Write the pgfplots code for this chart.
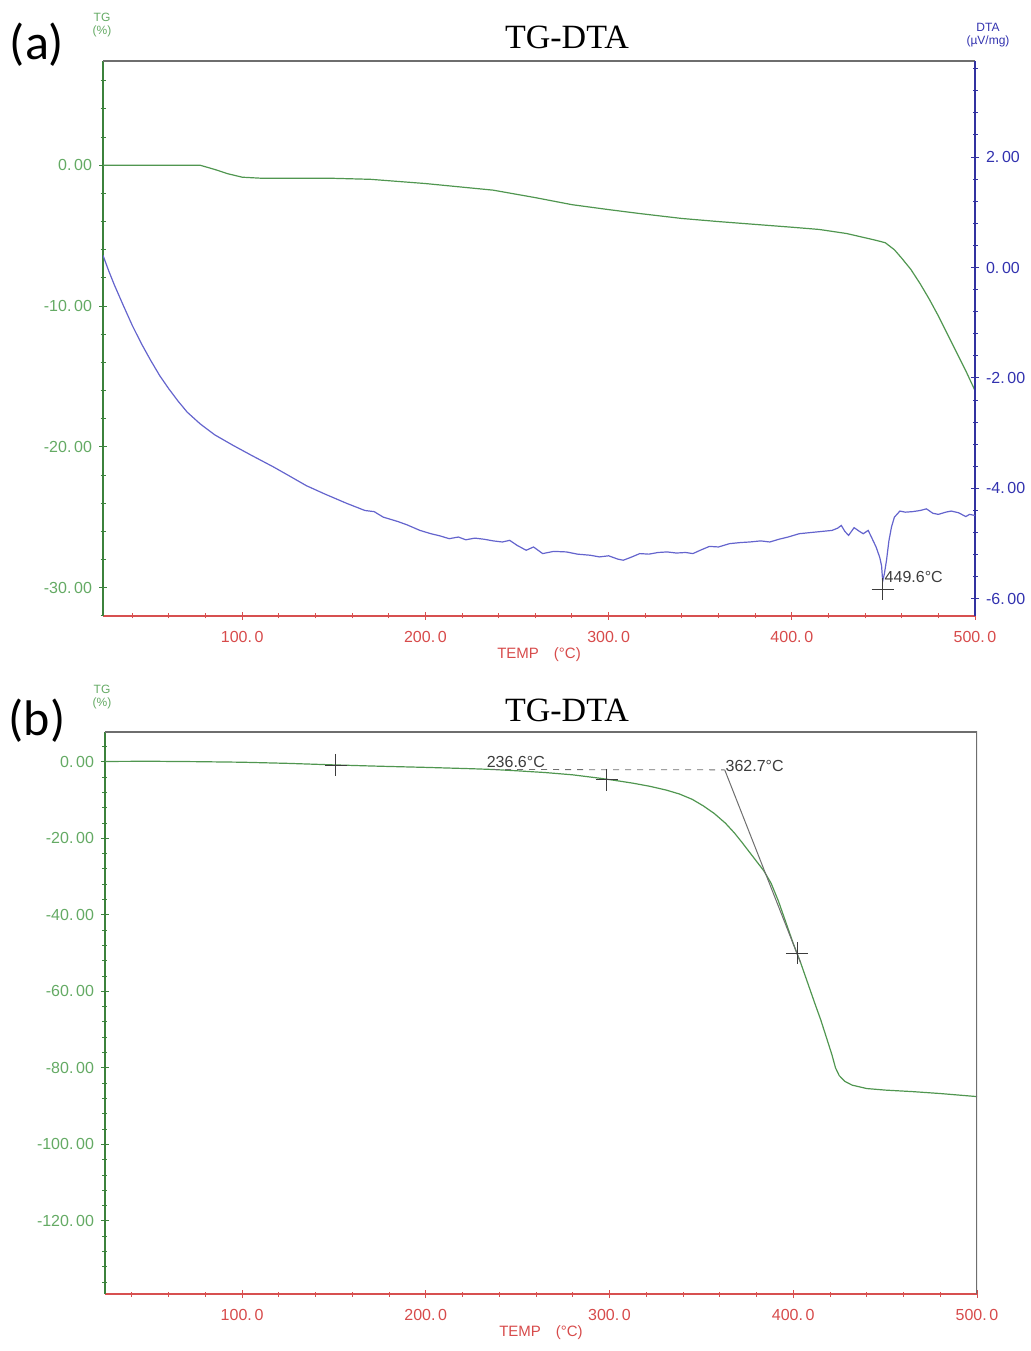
\documentclass[border=0pt]{standalone}
\usepackage{pgfplots}
\pgfplotsset{compat=1.18}
\usepackage{fontspec}
\setmainfont{Liberation Sans}
\newfontfamily\titlefont{Liberation Serif}
\newfontfamily\panelfont{Carlito}
\definecolor{tgcurve}{RGB}{80,150,80}
\definecolor{axgreen}{RGB}{60,130,60}
\definecolor{lblgreen}{RGB}{100,170,100}
\definecolor{dtacurve}{RGB}{100,100,205}
\definecolor{axblue}{RGB}{50,50,160}
\definecolor{lblblue}{RGB}{50,50,175}
\definecolor{axred}{RGB}{215,80,80}
\definecolor{lblred}{RGB}{215,75,75}
\definecolor{bordergray}{RGB}{110,110,110}
\definecolor{annot}{RGB}{60,60,60}

\pgfplotstableread{
T TG
24 0.0
77 0.0
85 -0.3
92 -0.6
100 -0.85
110 -0.92
150 -0.93
170 -1.0
200 -1.3
237 -1.77
260 -2.3
280 -2.8
300 -3.15
317 -3.43
340 -3.78
360 -4.0
380 -4.2
400 -4.4
415 -4.56
430 -4.85
445 -5.3
451 -5.5
456 -6.0
460 -6.6
465 -7.4
470 -8.4
475 -9.5
480 -10.7
485 -12.0
490 -13.3
495 -14.6
500 -16.0
}\tga

\pgfplotstableread{
T DTA
24 0.22
27 -0.05
30 -0.30
35 -0.68
40 -1.05
45 -1.38
50 -1.68
55 -1.96
60 -2.20
65 -2.42
70 -2.62
77 -2.83
85 -3.03
95 -3.22
105 -3.40
117 -3.61
125 -3.76
135 -3.95
145 -4.10
157 -4.27
167 -4.40
172 -4.42
177 -4.52
185 -4.60
190 -4.66
197 -4.76
203 -4.82
208 -4.86
213 -4.91
218 -4.88
222 -4.93
227 -4.90
232 -4.92
237 -4.95
242 -4.97
246 -4.94
250 -5.03
255 -5.12
259 -5.06
264 -5.18
270 -5.14
277 -5.15
283 -5.19
290 -5.21
295 -5.24
300 -5.22
305 -5.28
308 -5.30
312 -5.25
317 -5.18
322 -5.19
327 -5.16
332 -5.15
337 -5.17
342 -5.16
346 -5.18
350 -5.12
355 -5.05
360 -5.06
366 -5.00
372 -4.98
377 -4.97
383 -4.95
388 -4.97
393 -4.92
398 -4.88
404 -4.82
410 -4.80
416 -4.78
422 -4.76
425 -4.72
427 -4.67
429 -4.78
431 -4.85
434 -4.71
437 -4.78
439 -4.82
441.7 -4.76
443 -4.85
446 -5.06
448 -5.25
449 -5.40
449.6 -5.68
450.5 -5.55
451.7 -5.30
453 -4.95
454.4 -4.70
456 -4.52
459 -4.41
462 -4.43
466 -4.42
470 -4.40
473.5 -4.37
477 -4.45
480 -4.47
484 -4.43
487 -4.41
491 -4.44
495 -4.51
497 -4.47
500 -4.49
}\dtaa

\pgfplotstableread{
T TG
25.4 0.1
50 0.15
75 0.05
100 -0.1
125 -0.4
150 -0.8
175 -1.15
200 -1.45
225 -1.8
236.6 -2.0
250 -2.35
265 -2.8
280 -3.4
295 -4.3
305 -5.0
313 -5.6
322 -6.4
331 -7.4
338 -8.4
345 -9.8
351 -11.5
357 -13.5
363 -16.0
368 -18.6
372 -21
376 -23.5
380 -26
384 -28.5
388 -31.8
392 -36.5
396 -42
400 -47.5
404 -52.5
408 -58
412 -63.5
415 -67.5
418 -72
421 -76.5
423 -80
425 -82
428 -83.5
432 -84.5
440 -85.4
450 -85.8
465 -86.2
480 -86.7
490 -87.1
500 -87.5
}\tgb

\pgfplotsset{
  common/.style={
    scale only axis, width=436pt,
    anchor=south west,
    tick align=center,
    major tick length=4pt, minor tick length=2.5pt,
    /pgf/number format/assume math mode=true,
    tick label style={font=\fontsize{8}{9}\selectfont},
  },
  xred/.style={
    axis x line*=bottom,
    x axis line style={draw=axred, line width=0.8pt, -},
    x tick style={draw=axred, line width=0.5pt},
    xtick={100,200,...,500},
    minor xtick={40,60,...,480},
    xticklabel={\pgfmathprintnumber[fixed,fixed zerofill,precision=1,set decimal separator={.\,}]{\tick}},
    xticklabel style={text=lblred, yshift=-2pt},
    xlabel={TEMP\quad(\textdegree C)},
    xlabel style={text=lblred, font=\fontsize{7.5}{9}\selectfont, yshift=4pt},
  },
  ygreen/.style={
    axis y line*=left,
    y axis line style={draw=axgreen, line width=0.8pt, -},
    y tick style={draw=axgreen, line width=0.5pt},
    yticklabel={\pgfmathprintnumber[fixed,fixed zerofill,precision=2,set decimal separator={.\,}]{\tick}},
    yticklabel style={text=lblgreen},
  },
}

\begin{document}
\begin{tikzpicture}[x=1pt,y=1pt]
\path[use as bounding box] (0,0) rectangle (515,675.5);

% ---------------- Panel (a) -----------------
\begin{axis}[common, xred, ygreen,
  at={(51.5pt,367.5pt)}, height=277.5pt,
  xmin=24, xmax=500, ymin=-32, ymax=7.4,
  ytick={-30,-20,-10,0},
  minor ytick={-32,-30,...,6},
]
\addplot[tgcurve, line width=0.6pt, no marks] table[x=T,y=TG]{\tga};
\draw[bordergray, line width=0.8pt] (rel axis cs:0,1) -- (rel axis cs:1,1);
\end{axis}

\begin{axis}[common,
  at={(51.5pt,367.5pt)}, height=277.5pt,
  xmin=24, xmax=500, ymin=-6.31, ymax=3.74,
  axis x line=none,
  axis y line*=right,
  y axis line style={draw=axblue, line width=0.9pt, -},
  y tick style={draw=axblue, line width=0.5pt},
  ytick={-6,-4,...,2},
  minor ytick={-6.4,-6,...,3.6},
  yticklabel={\pgfmathprintnumber[fixed,fixed zerofill,precision=2,set decimal separator={.\,}]{\tick}},
  yticklabel style={text=lblblue},
]
\addplot[dtacurve, line width=0.6pt, no marks] table[x=T,y=DTA]{\dtaa};
\addplot[annot, only marks, mark=+, mark size=5.5pt, mark options={line width=0.4pt}] coordinates {(449.6,-5.82)};
\node[annot, anchor=west, font=\fontsize{8}{9}\selectfont, inner sep=0pt] at (axis cs:450.5,-5.6) {449.6\textdegree C};
\end{axis}

\node[font=\titlefont\fontsize{17}{20}\selectfont] at (283.5,657) {TG-DTA};
\node[font=\panelfont\fontsize{25}{28}\selectfont] at (18.5,653) {(a)};
\node[text=lblgreen, font=\fontsize{6}{6.5}\selectfont, align=center] at (51,663) {TG\\(\%)};
\node[text=lblblue, font=\fontsize{6}{6.5}\selectfont, align=center] at (494,658) {DTA\\(\textmu V/mg)};

% ---------------- Panel (b) -----------------
\begin{axis}[common, xred, ygreen,
  at={(52.5pt,28.5pt)}, height=281pt,
  xmin=25.4, xmax=500, ymin=-139.1, ymax=7.8,
  ytick={-120,-100,...,0},
  minor ytick={-136,-132,...,4},
]
\addplot[tgcurve, line width=0.6pt, no marks] table[x=T,y=TG]{\tgb};
\addplot[bordergray, line width=0.4pt, dashed, no marks] coordinates {(236.6,-2.0) (362.7,-2.1)};
\addplot[bordergray, line width=0.5pt, no marks] coordinates {(362.7,-2.1) (404,-52.5)};
\addplot[annot, only marks, mark=+, mark size=5.5pt, mark options={line width=0.4pt}] coordinates {(151,-0.8) (298.5,-4.7) (402,-50)};
\node[annot, anchor=south west, font=\fontsize{8}{9}\selectfont, inner sep=0pt] at (axis cs:233,-1.6) {236.6\textdegree C};
\node[annot, anchor=south west, font=\fontsize{8}{9}\selectfont, inner sep=0pt] at (axis cs:363,-2.6) {362.7\textdegree C};
\draw[bordergray, line width=0.8pt] (rel axis cs:0,1) -- (rel axis cs:1,1) -- (rel axis cs:1,0);
\end{axis}

\node[font=\titlefont\fontsize{17}{20}\selectfont] at (283.5,320.5) {TG-DTA};
\node[font=\panelfont\fontsize{25}{28}\selectfont] at (18.5,315) {(b)};
\node[text=lblgreen, font=\fontsize{6}{6.5}\selectfont, align=center] at (51,327) {TG\\(\%)};

\end{tikzpicture}
\end{document}
